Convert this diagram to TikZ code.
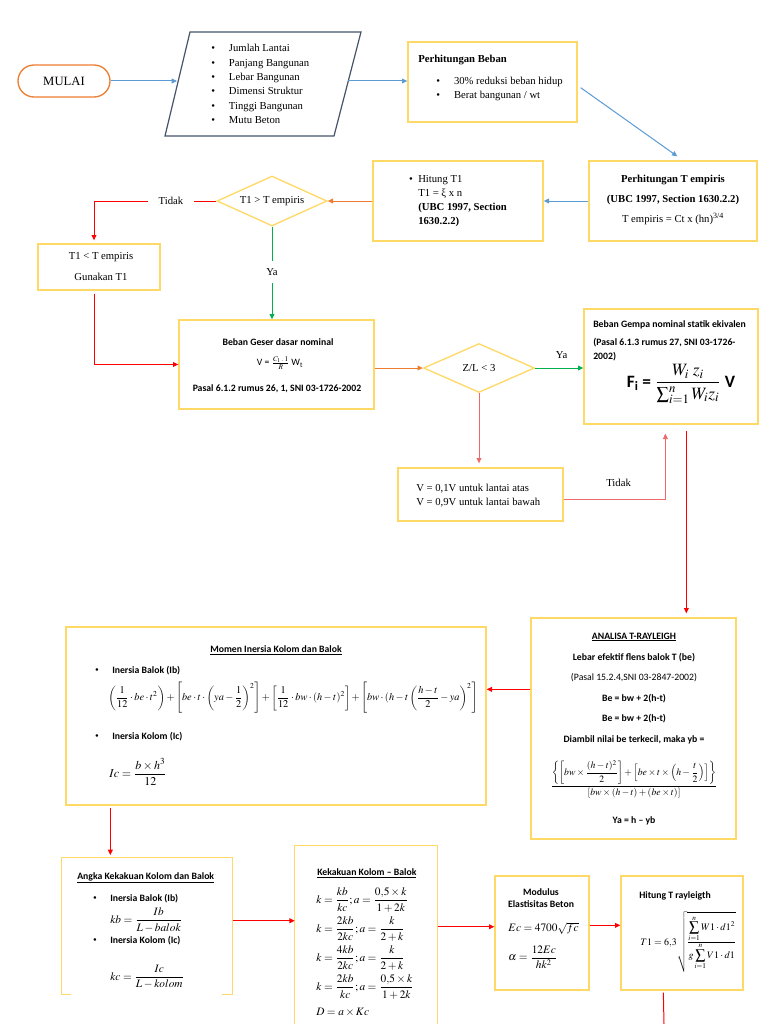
\documentclass[tikz,border=0pt]{standalone}
\usepackage{amsmath}
\usepackage{mathptmx}
\usepackage{fontspec}
\setmainfont{Liberation Serif}
\newfontfamily\calfont{Carlito}
\usetikzlibrary{arrows.meta,shapes.geometric,fit,calc}
\definecolor{boxy}{HTML}{FFD966}
\definecolor{slate}{HTML}{44546A}
\definecolor{ablue}{HTML}{5B9BD5}
\definecolor{aorange}{HTML}{ED7D31}
\definecolor{agreen}{HTML}{00B050}
\definecolor{ared}{HTML}{FF0000}
\definecolor{apink}{HTML}{EE6A6A}
\tikzset{
  yb/.style={draw=boxy, line width=1pt, inner sep=0pt},
  ybopen/.style={draw=boxy, line width=1pt},
  tt/.style={inner sep=0pt, text=black, font=\fontsize{8}{10}\selectfont},
  ttb/.style={inner sep=0pt, text=black, font=\fontsize{8}{10}\selectfont\bfseries},
  cb/.style={inner sep=0pt, font=\calfont\bfseries\fontsize{7.3}{9}\selectfont},
  cr/.style={inner sep=0pt, font=\calfont\fontsize{7.3}{9}\selectfont},
  mth/.style={inner sep=0pt, font=\fontsize{8.5}{10}\selectfont},
  conn/.style={line width=0.75pt},
  arr/.style={conn, -{Triangle[length=4pt,width=3.6pt]}},
  dia/.style={diamond, draw=boxy, line width=1pt, inner sep=0pt},
}
\begin{document}
\begin{tikzpicture}[x=0.75pt, y=-0.75pt]
\fill[white] (0,0) rectangle (768,1024);
\useasboundingbox (0,0) rectangle (768,1024);

% ---------- MULAI
\node[draw=aorange, line width=1pt, rounded corners=12pt, inner sep=0pt,
      fit={(18,65)(110,97)}] (mulai) {};
\node[tt, font=\fontsize{9.5}{11}\selectfont] (mulait) at (mulai.center) {MULAI};

% ---------- parallelogram input
\draw[draw=slate, line width=0.9pt] (190,32) -- (361,32) -- (334,136) -- (165,136) -- cycle;
\coordinate (pin) at (177,81);
\coordinate (pout) at (348,81);
\node[tt, anchor=west, align=left, font=\fontsize{8}{10.8}\selectfont] (plist) at (211,84)
  {\textbullet\hspace{10.5pt}Jumlah Lantai\\
   \textbullet\hspace{10.5pt}Panjang Bangunan\\
   \textbullet\hspace{10.5pt}Lebar Bangunan\\
   \textbullet\hspace{10.5pt}Dimensi Struktur\\
   \textbullet\hspace{10.5pt}Tinggi Bangunan\\
   \textbullet\hspace{10.5pt}Mutu Beton};
\draw[arr, ablue] (mulai.east) -- (pin);

% ---------- Perhitungan Beban
\node[yb, fit={(408,42)(577,122)}] (beban) {};
\node[ttb, anchor=west] (bebant) at (418,60) {Perhitungan Beban};
\node[tt, anchor=west, align=left, font=\fontsize{8}{10.5}\selectfont] (bebanl) at (436,89)
  {\textbullet\hspace{10.5pt}30\% reduksi beban hidup\\
   \textbullet\hspace{10.5pt}Berat bangunan / wt};
\draw[arr, ablue] (pout) -- (pout -| beban.west);

% ---------- Perhitungan T empiris
\node[yb, fit={(589,161)(757,241)}] (temp) {};
\node[ttb] (temp1) at (673,180) {Perhitungan T empiris};
\node[ttb] (temp2) at (673,200) {(UBC 1997, Section 1630.2.2)};
\node[tt] (temp3) at (673,219) {T empiris = Ct x (hn)\textsuperscript{3/4}};
\draw[arr, ablue] ($(beban.south east)+(3,-35)$) -- ($(temp.north west)+(89,-4)$);

% ---------- Hitung T1
\node[yb, fit={(373,161)(543,241)}] (hit) {};
\node[tt] (hitb) at (411,180) {\textbullet};
\node[tt, anchor=west, align=left, font=\fontsize{8}{10.5}\selectfont] (hitl) at (418,201)
  {Hitung T1\\T1 = ξ x n\\\textbf{(UBC 1997, Section}\\\textbf{1630.2.2)}};
\draw[arr, ablue] (temp.west) -- (hit.east);

% ---------- Diamond T1 > T empiris
\node[dia, minimum width=110*0.75pt, minimum height=50*0.75pt] (d1) at (272,201) {};
\node[tt] (d1t) at (d1) {T1 > T empiris};
\draw[arr, aorange] (hit.west) -- (d1.east);

% Tidak branch
\node[tt, minimum width=46*0.75pt, minimum height=10pt] (tidak1) at (171,201) {Tidak};
\node[yb, fit={(38,244)(160,290)}] (t1lt) {};
\node[tt] (t1lta) at (101,257) {T1 < T empiris};
\node[tt] (t1ltb) at (101,277) {Gunakan T1};
\draw[conn, ared] (d1.west) -- (tidak1.east);
\draw[arr, ared] (tidak1.west) -| ($(t1lt.north)+(-5,-3)$);

% Ya branch
\node[yb, fit={(179,320)(374,409)}] (geser) {};
\node[tt, minimum height=21*0.75pt] (ya1) at (272,272) {Ya};
\draw[conn, agreen] (d1.south) -- (ya1.north);
\draw[arr, agreen] (ya1.south) -- (ya1.south |- geser.north);
\draw[arr, ared] ($(t1lt.south)+(-5,3)$) |- (geser.west);

% Beban geser texts
\node[cb] (gs1) at (278,342) {Beban Geser dasar nominal};
\node[cr] (gs2) at (280,363) {V = $\frac{C_1\,.\,1}{R}$\,W\textsubscript{t}};
\node[cb] (gs3) at (277,389) {Pasal 6.1.2 rumus 26, 1, SNI 03-1726-2002};

% ---------- Diamond Z/L < 3
\node[dia, minimum width=111*0.75pt, minimum height=49*0.75pt] (d2) at (479,368) {};
\node[tt] (d2t) at (d2) {Z/L < 3};
\draw[arr, aorange] (geser.east |- d2.west) -- (d2.west);

% ---------- Beban gempa
\node[yb, fit={(584,309)(758,424)}] (gempa) {};
\node[cb, anchor=west] (gp1) at (593,325) {Beban Gempa nominal statik ekivalen};
\node[cb, anchor=west, align=left, font=\calfont\bfseries\fontsize{7.3}{10.5}\selectfont] (gp2) at (593,350)
  {(Pasal 6.1.3 rumus 27, SNI 03-1726-\\2002)};
\node[inner sep=0pt, font=\fontsize{13}{15}\selectfont] (gp3) at (681,384)
  {\calfont\bfseries F\textsubscript{i} = $\dfrac{\boldsymbol{W_i\;z_i}}{\sum_{i=1}^{n}\boldsymbol{W_i z_i}}$ V};
\draw[arr, agreen] (d2.east) -- (d2.east -| gempa.west) node[tt, pos=0.55, above=7pt] (ya2) {Ya};

% ---------- V box
\node[yb, fit={(398,468)(563,521)}] (vbox) {};
\node[tt, anchor=west, align=left, font=\fontsize{8}{10.5}\selectfont] (vtxt) at (416,496)
  {V = 0,1V untuk lantai atas\\V = 0,9V untuk lantai bawah};
\draw[arr, apink, shorten >=3pt] (d2.south) -- (d2.south |- vbox.north);
\draw[arr, apink] ($(vbox.east)+(0,5)$) -| ($(gempa.south west)+(82,9)$)
  node[tt, pos=0.27, above=9pt] (tidak2) {Tidak};

% ---------- Analisa T-Rayleigh
\node[yb, fit={(531,618)(736,839)}] (analisa) {};
\draw[arr, ared] ($(gempa.south west)+(103,6)$) -- ($(analisa.north west)+(156,-4)$);
\node[cb] (an1) at (634,637) {\underline{ANALISA T-RAYLEIGH}};
\node[cb] (an2) at (634,658) {Lebar efektif flens balok T (be)};
\node[cr] (an3) at (634,678) {(Pasal 15.2.4,SNI 03-2847-2002)};
\node[cb] (an4) at (634,699) {Be = bw + 2(h-t)};
\node[cb] (an5) at (634,719) {Be = bw + 2(h-t)};
\node[cb] (an6) at (634,740) {Diambil nilai be terkecil, maka yb =};
\node[inner sep=0pt] (an7) at (634,779)
  {\resizebox{125pt}{!}{$\dfrac{\left\{\left[bw\times\dfrac{(h-t)^2}{2}\right]+\left[be\times t\times\left(h-\dfrac{t}{2}\right)\right]\right\}}{\left[bw\times(h-t)+(be\times t)\right]}$}};
\node[cb] (an8) at (634,821) {Ya = h – yb};

% ---------- Momen inersia
\node[yb, fit={(66,627)(486,805)}] (momen) {};
\coordinate (aw) at ($(analisa.north west)+(0,72)$);
\draw[arr, ared] (aw) -- (aw -| momen.east);
\node[cb] (mo1) at (276,650) {\underline{Momen Inersia Kolom dan Balok}};
\node[tt] (mob1) at (97,671) {\textbullet};
\node[cb, anchor=west] (mo2) at (112,671) {Inersia Balok (Ib)};
\node[inner sep=0pt, anchor=west] (mo3) at (108,698)
  {\resizebox{277pt}{!}{$\left(\dfrac{1}{12}\cdot be\cdot t^2\right)+\left[be\cdot t\cdot\left(ya-\dfrac{1}{2}\right)^{2}\right]+\left[\dfrac{1}{12}\cdot bw\cdot(h-t)^2\right]+\left[bw\cdot(h-t\left(\dfrac{h-t}{2}-ya\right)^{2}\right]$}};
\node[tt] (mob2) at (97,737) {\textbullet};
\node[cb, anchor=west] (mo4) at (112,737) {Inersia Kolom (Ic)};
\node[inner sep=0pt, anchor=west, font=\fontsize{9}{11}\selectfont] (mo5) at (109,772) {$Ic=\dfrac{b\times h^3}{12}$};

% ---------- Angka kekakuan
\node[inner sep=0pt, fit={(62,858)(232,994)}] (angka) {};
\draw[ybopen] ($(angka.south west)+(9,0)$) -- (angka.south west) -- (angka.north west)
  -- (angka.north east) -- (angka.south east) -- ++(-10,0);
\coordinate (ms) at ($(momen.south west)+(45,2)$);
\draw[arr, ared, shorten >=2pt] (ms) -- (ms |- angka.north);
\node[cb, anchor=west] (ak1) at (77,878) {\underline{Angka Kekakuan Kolom dan Balok}};
\node[tt] (akb1) at (95,899) {\textbullet};
\node[cb, anchor=west] (ak2) at (110,899) {Inersia Balok (Ib)};
\node[mth, anchor=west] (ak3) at (110,920) {$kb=\dfrac{Ib}{L-balok}$};
\node[tt] (akb2) at (95,941) {\textbullet};
\node[cb, anchor=west] (ak4) at (110,941) {Inersia Kolom (Ic)};
\node[mth, anchor=west] (ak5) at (110,977) {$kc=\dfrac{Ic}{L-kolom}$};

% ---------- Kekakuan kolom-balok
\node[inner sep=0pt, fit={(295,846)(437,1024)}] (kek) {};
\draw[ybopen] (kek.south west) -- (kek.north west) -- (kek.north east) -- (kek.south east);
\coordinate (ae) at ($(angka.north east)+(1,63)$);
\draw[arr, ared] (ae) -- (ae -| kek.west);
\node[cb, anchor=west] (kk0) at (317,873) {\underline{Kekakuan Kolom – Balok}};
\node[mth, anchor=west] (kk1) at (316,900) {$k=\dfrac{kb}{kc};a=\dfrac{0{,}5\times k}{1+2k}$};
\node[mth, anchor=west] (kk2) at (316,929) {$k=\dfrac{2kb}{2kc};a=\dfrac{k}{2+k}$};
\node[mth, anchor=west] (kk3) at (316,958) {$k=\dfrac{4kb}{2kc};a=\dfrac{k}{2+k}$};
\node[mth, anchor=west] (kk4) at (316,987) {$k=\dfrac{2kb}{kc};a=\dfrac{0{,}5\times k}{1+2k}$};
\node[mth, anchor=west] (kk5) at (316,1012) {$D=a\times Kc$};

% ---------- Modulus elastisitas
\node[yb, fit={(495,876)(589,990)}] (mod) {};
\coordinate (ke) at ($(kek.north east)+(1,81)$);
\draw[arr, ared] (ke) -- (ke -| mod.west);
\node[cb, align=center, font=\calfont\bfseries\fontsize{7.3}{9}\selectfont] (md1) at (541,898) {Modulus\\Elastisitas Beton};
\node[mth, anchor=west] (md2) at (508,928) {$Ec=4700\sqrt{fc}$};
\node[mth, anchor=west] (md3) at (508,957) {$\alpha=\dfrac{12Ec}{hk^2}$};

% ---------- Hitung T rayleigh
\node[yb, fit={(621,876)(743,990)}] (hitT) {};
\coordinate (me) at ($(mod.north east)+(0,50)$);
\draw[arr, ared] (me) -- (me -| hitT.west);
\node[cb, anchor=west] (ht1) at (639,896) {Hitung T rayleigth};
\node[inner sep=0pt, anchor=west] (ht2) at (640,942)
  {\resizebox{72pt}{!}{$T1=6{,}3\sqrt{\frac{\displaystyle\sum_{i=1}^{n}W1\cdot d1^2}{\displaystyle g\sum_{i=1}^{n}V1\cdot d1}}$}};
\coordinate (hs) at ($(hitT.south west)+(43,2)$);
\coordinate (hend) at (664,1024);
\draw[conn, ared] (hs) -- (hend);
\end{tikzpicture}
\end{document}
